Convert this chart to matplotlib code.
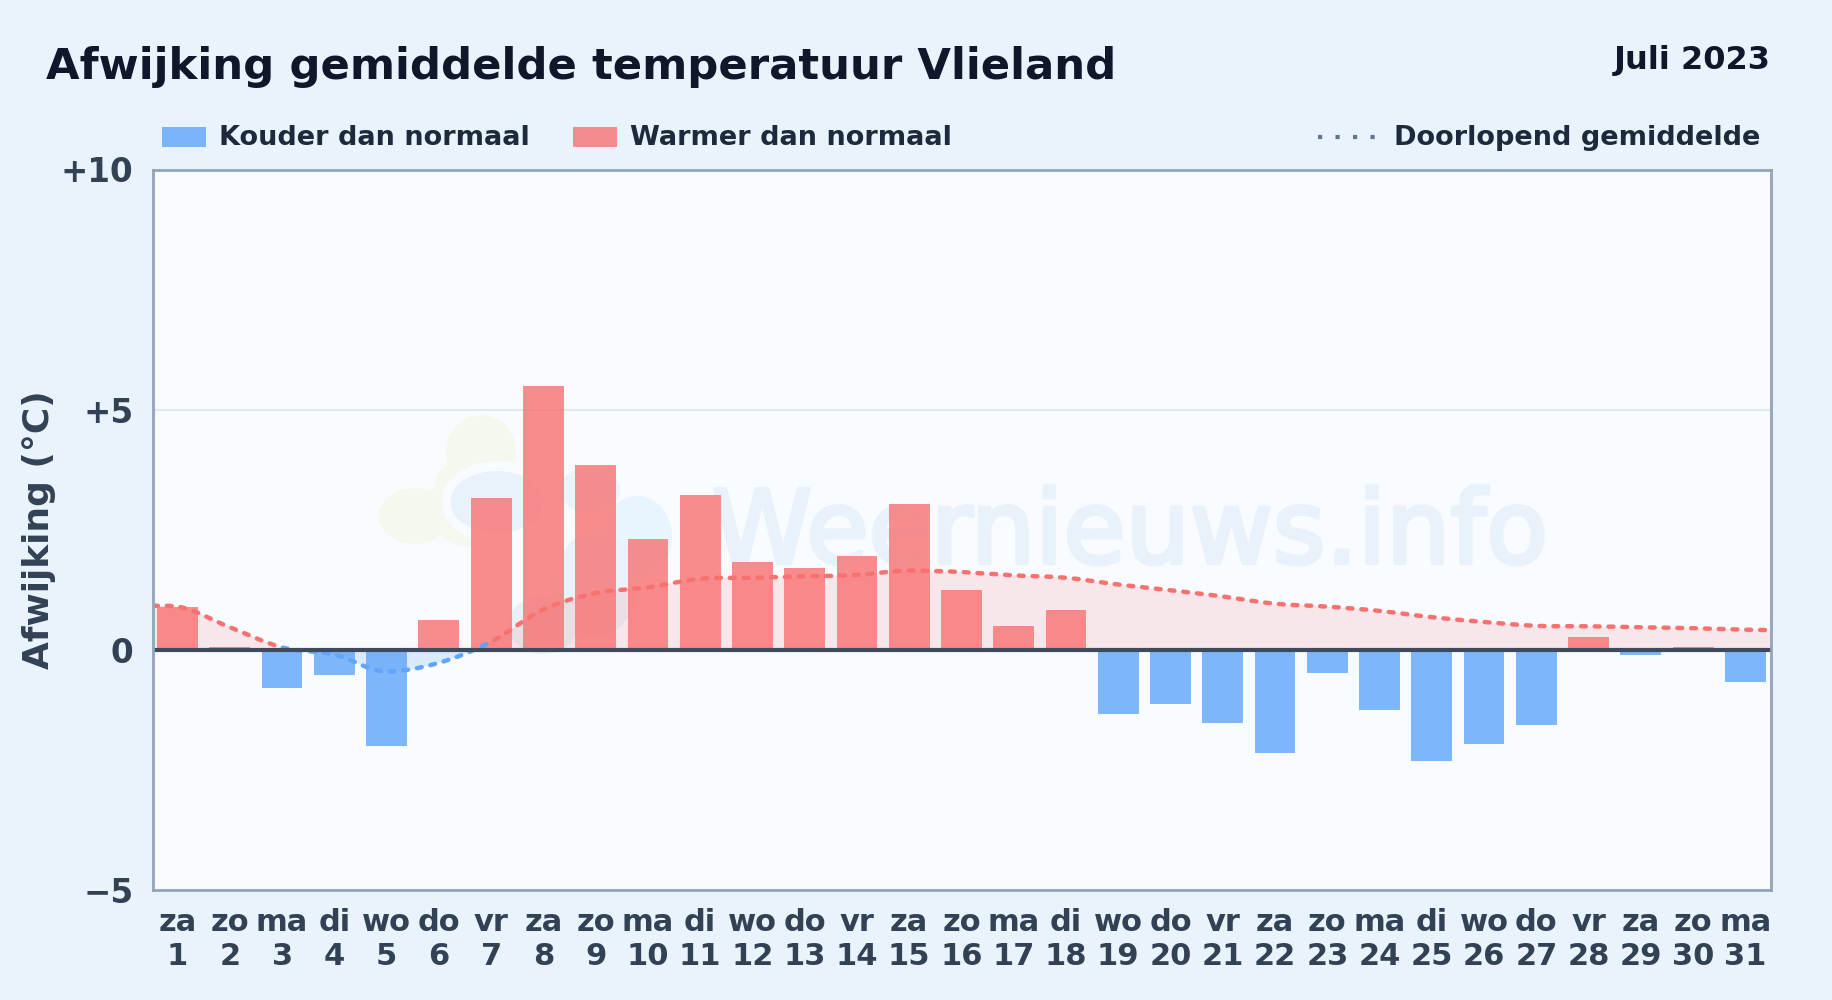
import matplotlib
matplotlib.use('Agg')
import matplotlib.pyplot as plt
import matplotlib.patches as patches
import matplotlib.patheffects as pe
from matplotlib.path import Path
from matplotlib.transforms import Affine2D
import numpy as np

W, H = 1832, 1000

days = list(range(1, 32))
weekdays = ['za', 'zo', 'ma', 'di', 'wo', 'do', 'vr', 'za', 'zo', 'ma', 'di', 'wo', 'do', 'vr', 'za', 'zo',
            'ma', 'di', 'wo', 'do', 'vr', 'za', 'zo', 'ma', 'di', 'wo', 'do', 'vr', 'za', 'zo', 'ma']
deviation = [0.9, 0.05, -0.8, -0.53, -2.0, 0.63, 3.16, 5.5, 3.84, 2.31, 3.23, 1.82, 1.7, 1.95, 3.04, 1.24,
             0.49, 0.83, -1.34, -1.12, -1.53, -2.14, -0.49, -1.26, -2.31, -1.97, -1.56, 0.27, -0.1, 0.05, -0.66]
running = [0.9, 0.47, 0.05, -0.1, -0.45, -0.27, 0.17, 0.84, 1.18, 1.3, 1.48, 1.5, 1.53, 1.56, 1.65, 1.62,
           1.55, 1.5, 1.36, 1.24, 1.11, 0.96, 0.9, 0.81, 0.68, 0.58, 0.5, 0.49, 0.47, 0.45, 0.42]
running_left = 0.92
running_right = 0.41
yticks = [-5, 0, 5, 10]
ytick_labels = ['\u22125', '0', '+5', '+10']

red = '#f87171'
blue = '#60a5fa'
dark = '#0f172a'
slate = '#1e293b'
tick_color = '#334155'

fig = plt.figure(figsize=(W / 100, H / 100), dpi=100, facecolor='#e9f3fc')
ax = fig.add_axes([153 / W, 1 - 890 / H, (1771 - 153) / W, (890 - 169.5) / H])
ax.set_facecolor('#f8fbff')
ax.set_xlim(-0.47, 30.49)
ax.set_ylim(-5, 10)

# pixel coordinates, y from the top
px = Affine2D().scale(1, -1).translate(0, H)


def blob(x, y, w, h, color, angle=0):
    ax.add_patch(patches.Ellipse((x, y), w, h, angle=angle, facecolor=color, edgecolor='none',
                                 transform=px, zorder=0.5))


# logo watermark
leaf = '#f3f9ef'
blob(481, 453, 70, 76, leaf)
blob(456, 497, 47, 70, leaf)
blob(415, 516, 72, 56, leaf)
blob(467, 526, 58, 41, leaf)
blob(497, 502, 111, 82, '#f8fbff')
blob(497, 502, 93, 62, '#e9f1fa')
blob(590, 490, 60, 46, '#e8f4fe')
blob(637, 537, 70, 82, '#e8f4fe')
blob(596, 584, 82, 105, '#e8f2fb')
blob(543, 625, 70, 58, '#e8eff6')
ax.text(1130, 535, 'Weernieuws.info', transform=px, ha='center', va='center', fontsize=73,
        color='#e9f2fb', zorder=0.6, path_effects=[pe.withStroke(linewidth=3, foreground='#e9f2fb')])

ax.yaxis.grid(True, color='#e2e8f0', linewidth=1.5, zorder=1)
ax.xaxis.grid(False)
ax.set_axisbelow(True)

x = np.arange(len(days))
bar_colors = [red if v >= 0 else blue for v in deviation]
ax.bar(x, deviation, width=0.78, color=bar_colors, alpha=0.8, linewidth=0, zorder=3)

# smooth line through the daily running mean
line_x = np.concatenate([[-0.47], x, [30.49]])
line_y = np.array([running_left] + running + [running_right])
slopes = np.gradient(line_y, line_x)
for i in range(1, len(line_y) - 1):
    if (line_y[i] - line_y[i - 1]) * (line_y[i + 1] - line_y[i]) <= 0:
        slopes[i] = 0
verts = [(line_x[0], line_y[0])]
codes = [Path.MOVETO]
for i in range(len(line_x) - 1):
    step = (line_x[i + 1] - line_x[i]) / 3
    verts += [(line_x[i] + step, line_y[i] + slopes[i] * step),
              (line_x[i + 1] - step, line_y[i + 1] - slopes[i + 1] * step),
              (line_x[i + 1], line_y[i + 1])]
    codes += [Path.CURVE4] * 3

area_verts = verts + [(line_x[-1], 0), (line_x[0], 0), (line_x[0], line_y[0])]
area_codes = codes + [Path.LINETO, Path.LINETO, Path.CLOSEPOLY]
for color, alpha, bottom, top in [(red, 0.14, 0, 10), (blue, 0.2, -5, 0)]:
    area = patches.PathPatch(Path(area_verts, area_codes), facecolor=color, edgecolor='none', alpha=alpha, zorder=2)
    ax.add_patch(area)
    area.set_clip_path(patches.Rectangle((-0.47, bottom), 30.96, top - bottom, transform=ax.transData))

# blue from day 3 to day 7, red elsewhere
for color, start, end in [(red, -0.47, 2), (blue, 2, 6), (red, 6, 30.49)]:
    curve = patches.PathPatch(Path(verts, codes), facecolor='none', edgecolor=color, linewidth=3.2,
                              linestyle=(0, (1.1, 2.0)), capstyle='round', zorder=4)
    ax.add_patch(curve)
    curve.set_clip_path(patches.Rectangle((start, -5), end - start, 15, transform=ax.transData))

ax.axhline(0, color='#3f4a5c', linewidth=3, zorder=5)

for side in ax.spines.values():
    side.set_color('#94a3b8')
    side.set_linewidth(2)
    side.set_zorder(6)

ax.set_xticks(x)
ax.set_xticklabels([f'{d}\n{n}' for d, n in zip(weekdays, days)], fontsize=22, fontweight='bold',
                   color=tick_color, linespacing=1.2)
ax.set_yticks(yticks)
ax.set_yticklabels(ytick_labels, fontsize=23.5, fontweight='bold', color=tick_color)
ax.tick_params(axis='both', length=0)
ax.tick_params(axis='x', pad=13)
ax.tick_params(axis='y', pad=14)
ax.set_ylabel('')
ax.text(39, 530, 'Afwijking (°C)', transform=px, rotation=90, ha='center', va='center', fontsize=25.9,
        fontweight='bold', color=tick_color, clip_on=False)

ax.text(46, 67, 'Afwijking gemiddelde temperatuur Vlieland', transform=px, ha='left', va='center', fontsize=31.2,
        fontweight='bold', color=dark, clip_on=False)
ax.text(1771, 61, 'Juli 2023', transform=px, ha='right', va='center', fontsize=23, fontweight='bold', color=dark,
        clip_on=False)

# legend
for left, color, label in [(162, blue, 'Kouder dan normaal'), (573, red, 'Warmer dan normaal')]:
    ax.add_patch(patches.Rectangle((left, 127), 44, 20, facecolor=color, edgecolor='none', alpha=0.8, transform=px,
                                   clip_on=False))
    ax.text(left + 57, 138, label, transform=px, ha='left', va='center', fontsize=19.5, fontweight='bold', color=slate,
            clip_on=False)
ax.plot([1318, 1376], [137, 137], transform=px, color='#64748b', linewidth=3, linestyle=(0, (1, 3.2)),
        clip_on=False)
ax.text(1760, 138, 'Doorlopend gemiddelde', transform=px, ha='right', va='center', fontsize=19.5, fontweight='bold',
        color=slate, clip_on=False)

fig.savefig('out.png', dpi=100, facecolor=fig.get_facecolor())
